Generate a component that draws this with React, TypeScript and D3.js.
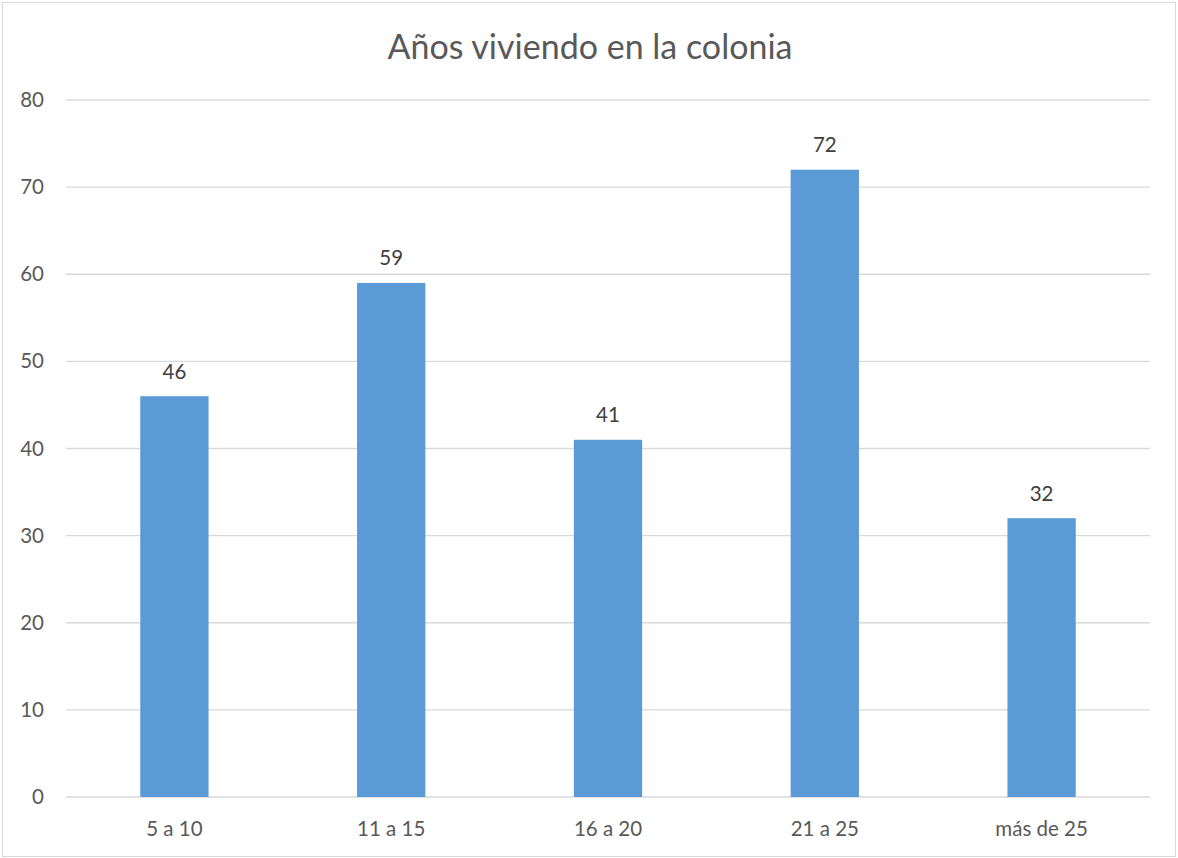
import React from "react";
import * as d3 from "d3";

const categories = ["5 a 10", "11 a 15", "16 a 20", "21 a 25", "más de 25"];
const values = [46, 59, 41, 72, 32];
const yTicks = [0, 10, 20, 30, 40, 50, 60, 70, 80];
const title = "Años viviendo en la colonia";

export default function App() {
  const W = 1178, H = 858;
  const left = 66, right = 1150, top = 100, bottom = 797;
  const x = d3.scaleBand<string>().domain(categories).range([left, right]).paddingInner(0.685).paddingOuter(0.3425);
  const y = d3.scaleLinear().domain([0, 80]).range([bottom, top]);
  const font = "Lato, 'Open Sans', sans-serif";
  return (
    <svg width={W} height={H} style={{ position: "absolute", left: 0, top: 0, background: "#fff" }} fontFamily={font}>
      <rect x={2.5} y={2.5} width={W - 5} height={H - 4} fill="#fff" stroke="#d9d9d9" />
      <text x={590} y={59} textAnchor="middle" fontSize={34} fill="#595959">{title}</text>
      {yTicks.map((t) => (
        <g key={t}>
          <line x1={left} x2={right} y1={y(t)} y2={y(t)} stroke="#d9d9d9" strokeWidth={1.3} />
          <text x={44} y={y(t) + 7} textAnchor="end" fontSize={20.5} fill="#595959">{t}</text>
        </g>
      ))}
      {categories.map((c, i) => (
        <g key={c}>
          <rect x={x(c)} y={y(values[i])} width={x.bandwidth()} height={y(0) - y(values[i])} fill="#5b9bd5" />
          <text x={(x(c) as number) + x.bandwidth() / 2} y={y(values[i]) - 17.5} textAnchor="middle" fontSize={20.5} fill="#404040">{values[i]}</text>
          <text x={(x(c) as number) + x.bandwidth() / 2} y={836} textAnchor="middle" fontSize={20.5} fill="#595959">{c}</text>
        </g>
      ))}
    </svg>
  );
}
